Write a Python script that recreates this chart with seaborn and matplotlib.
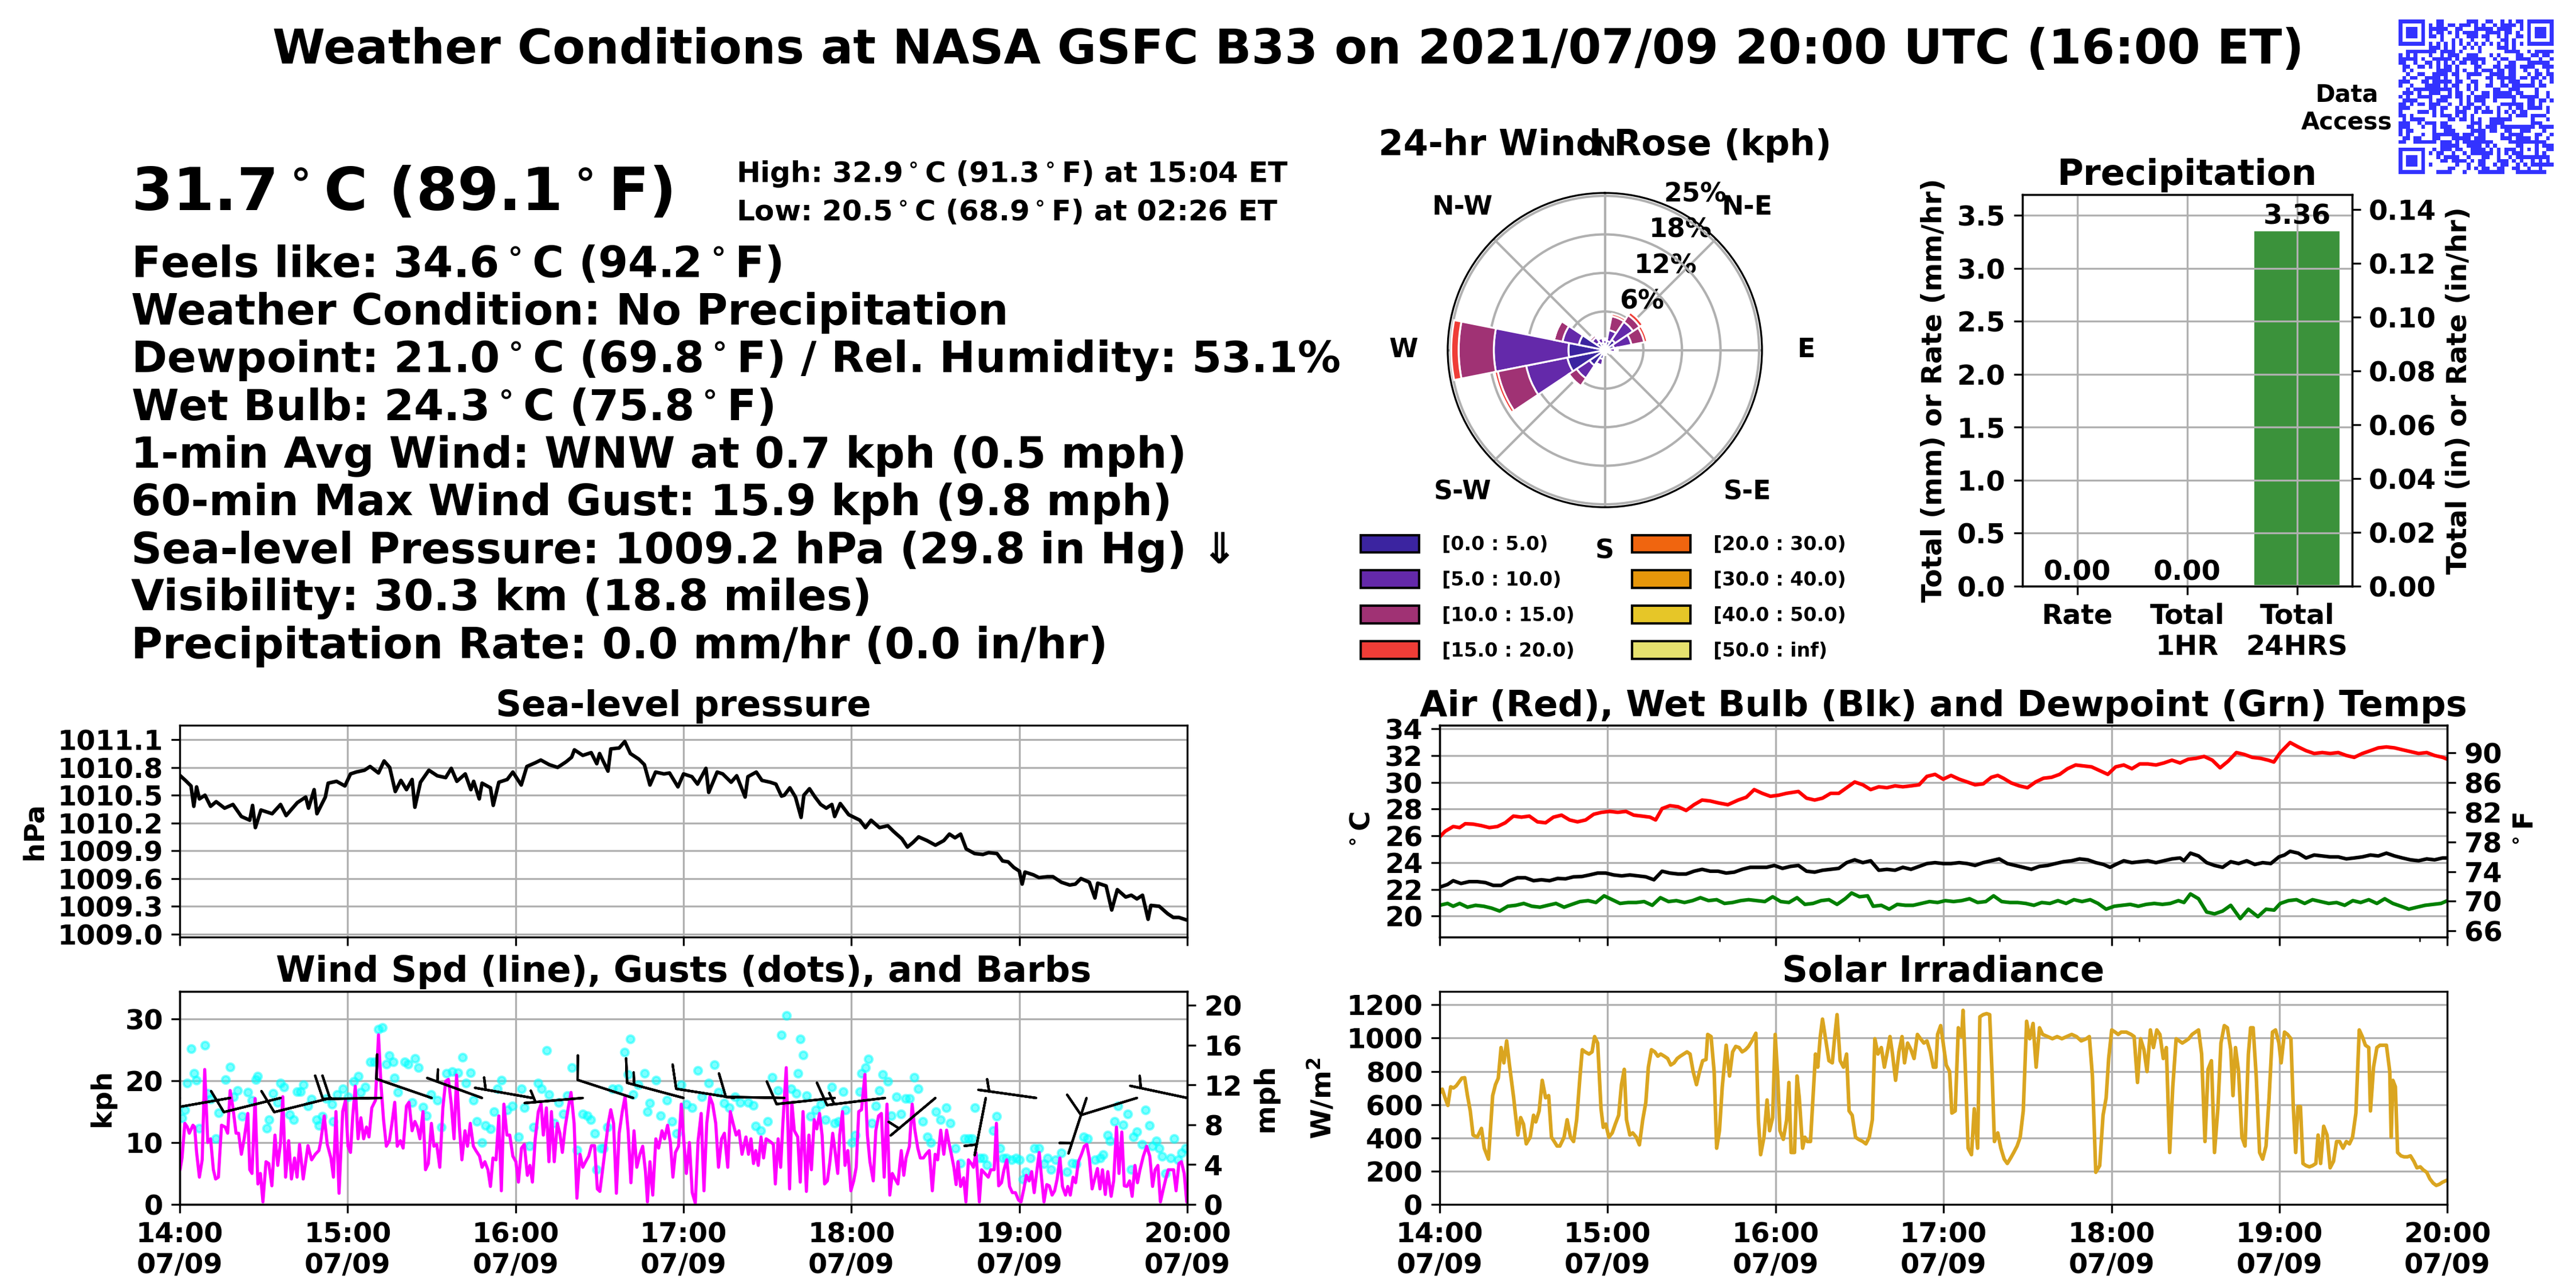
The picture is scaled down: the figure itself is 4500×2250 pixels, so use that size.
import hashlib

import numpy as np
import pandas as pd
import seaborn as sns
import matplotlib
matplotlib.use("Agg")
import matplotlib.pyplot as plt
import matplotlib.dates as mdates
import matplotlib.patches as mpatches
from matplotlib.colors import ListedColormap
from matplotlib.ticker import FormatStrFormatter

# ---------------- data ----------------
T0 = pd.Timestamp("2021-07-09 14:00")

TITLE = "Weather Conditions at NASA GSFC B33 on 2021/07/09 20:00 UTC (16:00 ET)"
BIG_TEMP = "31.7$^\\circ$C (89.1$^\\circ$F)"
HIGH_LOW = ["High: 32.9$^\\circ$C (91.3$^\\circ$F) at 15:04 ET",
            "Low: 20.5$^\\circ$C (68.9$^\\circ$F) at 02:26 ET"]
CONDITIONS = [
    "Feels like: 34.6$^\\circ$C (94.2$^\\circ$F)",
    "Weather Condition: No Precipitation",
    "Dewpoint: 21.0$^\\circ$C (69.8$^\\circ$F) / Rel. Humidity: 53.1%",
    "Wet Bulb: 24.3$^\\circ$C (75.8$^\\circ$F)",
    "1-min Avg Wind: WNW at 0.7 kph (0.5 mph)",
    "60-min Max Wind Gust: 15.9 kph (9.8 mph)",
    "Sea-level Pressure: 1009.2 hPa (29.8 in Hg) \u21d3",
    "Visibility: 30.3 km (18.8 miles)",
    "Precipitation Rate: 0.0 mm/hr (0.0 in/hr)",
]

# (minutes after 14:00 UTC, value)
PRESSURE = [
    (0, 1010.715), (2, 1010.66), (4, 1010.60), (5, 1010.38), (6, 1010.59), (7, 1010.46), (9, 1010.50),
    (11, 1010.38), (13, 1010.43), (16, 1010.36), (19, 1010.40), (22, 1010.27), (25, 1010.23), (26, 1010.39),
    (27, 1010.15), (29, 1010.34), (33, 1010.30), (36, 1010.40), (38, 1010.28), (42, 1010.42), (45, 1010.48),
    (46, 1010.36), (48, 1010.56), (49, 1010.30), (52, 1010.48), (53, 1010.63), (56, 1010.65), (59, 1010.60),
    (61, 1010.73), (63, 1010.75), (66, 1010.77), (68, 1010.81), (71, 1010.74), (73, 1010.87), (75, 1010.80),
    (77, 1010.54), (79, 1010.66), (81, 1010.56), (83, 1010.67), (84, 1010.37), (86, 1010.64), (89, 1010.77),
    (92, 1010.71), (95, 1010.69), (97, 1010.79), (99, 1010.65), (102, 1010.73), (104, 1010.56), (105, 1010.65),
    (107, 1010.46), (108, 1010.63), (111, 1010.58), (112, 1010.39), (114, 1010.64), (117, 1010.67),
    (119, 1010.75), (122, 1010.61), (124, 1010.81), (127, 1010.85), (129, 1010.88), (132, 1010.83),
    (135, 1010.80), (138, 1010.86), (140, 1010.91), (141, 1010.99), (144, 1010.93), (147, 1010.96),
    (149, 1010.84), (150, 1010.95), (153, 1010.76), (154, 1011.00), (157, 1011.01), (159, 1011.08),
    (161, 1010.95), (164, 1010.89), (166, 1010.83), (168, 1010.61), (170, 1010.75), (173, 1010.73),
    (175, 1010.74), (178, 1010.59), (180, 1010.73), (183, 1010.70), (185, 1010.62), (188, 1010.79),
    (189, 1010.53), (192, 1010.75), (194, 1010.73), (197, 1010.64), (199, 1010.71), (202, 1010.48),
    (203, 1010.70), (206, 1010.75), (208, 1010.66), (211, 1010.64), (213, 1010.62), (215, 1010.49),
    (216, 1010.50), (218, 1010.58), (220, 1010.48), (222, 1010.26), (223, 1010.50), (225, 1010.57),
    (227, 1010.48), (229, 1010.40), (231, 1010.36), (233, 1010.40), (234, 1010.27), (236, 1010.41),
    (239, 1010.29), (241, 1010.26), (243, 1010.23), (245, 1010.15), (247, 1010.23), (250, 1010.15),
    (253, 1010.17), (255, 1010.11), (258, 1010.03), (260, 1009.94), (262, 1009.99), (264, 1010.05),
    (267, 1010.01), (270, 1009.96), (273, 1010.01), (275, 1010.08), (277, 1010.04), (279, 1010.08),
    (281, 1009.92), (284, 1009.87), (287, 1009.86), (289, 1009.88), (292, 1009.87), (294, 1009.79),
    (296, 1009.78), (298, 1009.72), (300, 1009.68), (301, 1009.54), (302, 1009.67), (305, 1009.64),
    (307, 1009.61), (310, 1009.62), (312, 1009.62), (315, 1009.56), (318, 1009.53), (320, 1009.54),
    (322, 1009.60), (325, 1009.56), (327, 1009.39), (328, 1009.55), (331, 1009.52), (333, 1009.26),
    (335, 1009.48), (338, 1009.40), (340, 1009.42), (342, 1009.38), (344, 1009.42), (346, 1009.16),
    (347, 1009.31), (350, 1009.30), (353, 1009.22), (355, 1009.18), (357, 1009.18), (360, 1009.15),
]
PRESSURE_TICKS = [1009.0, 1009.3, 1009.6, 1009.9, 1010.2, 1010.5, 1010.8, 1011.1]

WIND_SPEED = [
    (0.1, 5.6), (0.8, 7.5), (1.8, 13.1), (2.7, 12.5), (3.4, 11.5), (4.7, 12.8), (5.3, 12.5), (6.0, 8.4),
    (7.0, 4.4), (8.0, 7.2), (8.9, 21.8), (10.0, 10.0), (11.0, 10.6), (12.0, 5.6), (12.8, 4.1), (13.8, 4.4),
    (14.9, 12.8), (16.2, 12.5), (17.1, 11.5), (18.0, 18.4), (19.0, 15.6), (20.1, 11.5), (21.0, 11.5),
    (22.0, 8.1), (23.0, 10.6), (24.3, 14.7), (25.0, 5.6), (25.8, 5.0), (26.9, 17.1), (27.9, 3.3), (28.8, 5.0),
    (29.7, 0.4), (30.8, 6.9), (31.8, 6.6), (32.9, 3.0), (34.0, 11.2), (35.0, 6.3), (36.0, 10.0), (36.8, 17.4),
    (37.8, 4.4), (38.9, 10.3), (39.9, 4.1), (41.0, 7.5), (41.9, 4.4), (42.8, 9.7), (44.1, 4.1), (45.8, 9.5),
    (47.1, 7.2), (48.4, 8.1), (49.7, 8.7), (50.3, 10.0), (51.6, 14.3), (52.7, 9.7), (54.0, 7.5), (54.9, 4.4),
    (55.8, 15.0), (56.9, 1.8), (58.2, 15.0), (59.2, 16.8), (60.1, 9.4), (61.0, 8.4), (61.8, 14.3),
    (62.7, 19.1), (63.7, 10.6), (64.7, 14.0), (65.7, 10.6), (66.7, 12.5), (67.6, 10.9), (68.6, 15.6),
    (69.9, 16.8), (71.0, 27.4), (71.9, 19.3), (72.8, 13.7), (73.8, 9.4), (74.9, 10.3), (75.8, 13.1),
    (76.8, 16.5), (77.7, 9.4), (78.8, 10.3), (79.8, 9.1), (81.0, 15.9), (81.9, 16.5), (83.0, 11.9),
    (84.0, 13.4), (84.9, 12.5), (85.8, 10.6), (86.9, 15.0), (87.8, 5.6), (88.8, 6.6), (89.9, 13.1),
    (90.8, 9.4), (91.8, 9.7), (92.9, 6.0), (94.0, 15.6), (95.0, 19.9), (96.0, 20.2), (97.0, 16.2),
    (98.0, 10.6), (98.9, 20.9), (99.9, 12.5), (100.8, 7.2), (101.9, 11.9), (102.8, 9.4), (103.8, 13.1),
    (104.9, 9.4), (105.8, 8.7), (107.1, 7.8), (108.0, 6.0), (109.0, 6.9), (110.1, 5.6), (111.0, 2.9),
    (111.9, 7.5), (113.0, 7.2), (114.0, 14.3), (114.9, 2.2), (115.8, 16.2), (116.9, 11.2), (117.9, 11.2),
    (119.0, 7.8), (120.1, 6.9), (121.0, 3.6), (122.1, 9.1), (123.1, 9.7), (124.2, 4.7), (125.1, 6.3),
    (126.0, 3.6), (127.0, 10.6), (128.1, 15.0), (129.1, 16.2), (129.9, 11.2), (131.0, 15.6), (131.9, 6.9),
    (132.8, 15.0), (133.8, 6.9), (134.9, 13.1), (135.8, 11.5), (136.7, 8.4), (137.7, 12.5), (138.8, 15.6),
    (139.8, 18.1), (140.9, 13.1), (141.9, 1.0), (143.0, 8.1), (144.0, 6.0), (145.0, 6.9), (146.1, 7.8),
    (147.1, 9.5), (148.2, 9.5), (149.2, 2.5), (150.1, 2.1), (151.0, 5.3), (152.1, 9.4), (153.1, 13.1),
    (154.0, 15.3), (155.0, 13.1), (156.0, 1.8), (157.0, 11.5), (158.1, 15.0), (159.1, 17.4), (160.2, 11.9),
    (161.2, 3.5), (162.3, 11.9), (163.3, 6.0), (164.4, 8.1), (165.4, 9.4), (166.4, 5.3), (167.1, 0.4),
    (168.0, 6.9), (169.0, 1.5), (170.1, 10.6), (171.1, 9.1), (172.3, 11.9), (173.2, 10.6), (174.3, 12.8),
    (175.3, 10.0), (176.2, 4.4), (177.1, 8.4), (178.2, 9.4), (179.2, 16.2), (180.1, 10.3), (181.0, 5.0),
    (182.1, 10.0), (183.1, 1.9), (184.2, 0.2), (185.2, 10.3), (186.3, 14.7), (187.3, 2.2), (188.3, 13.1),
    (189.4, 17.4), (190.4, 16.2), (191.5, 13.1), (192.5, 6.0), (193.6, 10.6), (194.6, 11.5), (195.8, 6.0),
    (196.7, 15.0), (197.7, 13.1), (198.8, 11.2), (199.8, 11.9), (200.9, 8.1), (202.3, 10.9), (203.2, 8.1),
    (204.1, 10.6), (205.0, 6.6), (205.8, 8.7), (206.7, 6.3), (207.7, 10.9), (208.6, 7.5), (209.5, 10.6),
    (210.5, 10.3), (211.4, 10.0), (212.1, 9.7), (212.8, 3.3), (213.8, 10.6), (214.7, 6.0), (215.5, 13.1),
    (216.7, 22.1), (217.9, 2.5), (218.7, 16.5), (219.6, 11.9), (220.8, 10.9), (221.7, 3.6), (222.7, 15.0),
    (223.9, 2.1), (224.8, 11.2), (225.7, 5.6), (226.7, 13.7), (227.6, 12.2), (228.6, 14.7), (229.5, 11.2),
    (230.4, 3.3), (231.4, 3.8), (232.3, 6.9), (233.3, 11.5), (234.2, 8.4), (235.1, 5.0), (235.8, 11.2),
    (236.8, 15.0), (237.7, 6.3), (238.7, 8.7), (239.8, 2.2), (240.8, 3.8), (241.7, 6.0), (242.6, 15.0),
    (243.6, 15.3), (244.8, 21.0), (245.7, 11.2), (246.6, 6.9), (247.8, 3.8), (248.7, 11.9), (249.7, 14.3),
    (250.7, 14.7), (251.7, 4.4), (252.7, 16.2), (253.7, 1.5), (254.6, 5.0), (255.6, 4.1), (256.6, 3.3),
    (257.8, 8.7), (258.7, 4.7), (259.5, 7.5), (260.7, 9.4), (261.7, 16.2), (262.6, 12.2), (263.7, 9.1),
    (264.6, 7.5), (265.7, 7.5), (266.6, 8.1), (267.8, 8.7), (268.9, 2.2), (269.9, 8.1), (270.8, 7.2),
    (271.9, 12.0), (273.0, 8.1), (274.0, 12.0), (274.8, 10.0), (275.7, 8.1), (276.6, 6.0), (277.4, 3.2),
    (278.1, 6.9), (279.0, 2.9), (280.1, 4.3), (280.9, 0.4), (281.8, 7.2), (282.8, 6.6), (283.6, 6.0),
    (284.5, 8.4), (285.7, 0.4), (286.5, 5.6), (287.7, 5.0), (288.9, 4.4), (289.8, 5.6), (291.0, 5.6),
    (291.8, 13.1), (292.6, 3.0), (293.6, 3.5), (294.5, 5.6), (295.5, 7.2), (296.5, 2.9), (297.5, 1.9),
    (298.6, 1.9), (299.7, 0.7), (300.6, 0.4), (301.6, 2.5), (302.5, 4.7), (303.5, 3.8), (304.4, 5.3),
    (305.3, 1.9), (306.3, 5.6), (307.1, 8.4), (307.9, 4.4), (308.8, 0.4), (309.8, 3.2), (310.7, 3.0),
    (311.7, 1.5), (312.6, 2.2), (313.5, 4.1), (314.5, 7.5), (315.4, 2.9), (316.5, 1.5), (317.3, 2.9),
    (318.2, 1.5), (319.2, 4.4), (320.1, 3.5), (321.1, 6.9), (322.2, 8.1), (323.2, 9.4), (324.1, 9.7),
    (325.0, 7.5), (326.0, 2.5), (326.9, 4.1), (327.9, 5.8), (328.8, 2.5), (329.7, 5.6), (330.7, 1.6),
    (331.6, 5.3), (332.8, 1.3), (333.7, 3.8), (334.7, 12.5), (335.6, 5.0), (336.6, 11.7), (337.5, 3.0),
    (338.4, 2.9), (339.4, 3.8), (340.3, 1.3), (341.3, 6.3), (342.2, 3.5), (343.1, 5.6), (344.3, 7.8),
    (345.5, 9.4), (346.6, 7.8), (347.6, 2.9), (348.5, 5.6), (349.5, 6.3), (350.4, 0.4), (351.3, 2.2),
    (352.3, 4.1), (353.2, 5.6), (354.2, 5.6), (355.1, 5.6), (356.0, 2.2), (357.0, 6.6), (357.9, 6.9),
    (358.9, 5.0), (359.8, 0.4),
]

WIND_GUST = [
    (0.8, 14.0), (1.8, 15.3), (2.7, 19.6), (4.0, 25.2), (5.0, 21.2), (6.0, 20.1), (7.0, 12.3), (9.0, 25.7),
    (10.0, 17.9), (11.0, 17.0), (12.8, 10.6), (13.8, 14.8), (16.4, 20.2), (18.0, 22.2), (19.3, 17.4),
    (20.6, 18.4), (22.3, 14.2), (24.3, 18.1), (25.8, 16.8), (27.1, 20.2), (27.9, 20.7), (31.0, 12.3),
    (31.8, 13.7), (33.4, 17.9), (35.0, 16.5), (36.0, 19.6), (37.3, 19.0), (39.3, 14.5), (40.6, 13.7),
    (41.9, 18.2), (43.2, 18.2), (44.1, 19.3), (45.8, 15.9), (47.1, 17.0), (48.8, 13.7), (49.7, 12.8),
    (51.0, 14.2), (52.3, 17.1), (54.3, 16.2), (54.9, 13.4), (56.2, 17.8), (58.2, 18.7), (60.1, 17.4),
    (62.1, 19.9), (63.7, 20.7), (64.7, 18.1), (66.3, 19.0), (68.0, 23.0), (69.6, 23.0), (71.0, 28.3),
    (72.3, 28.6), (73.8, 22.7), (74.9, 24.0), (76.2, 23.0), (76.7, 20.4), (78.0, 18.1), (80.3, 23.0),
    (81.6, 22.7), (83.0, 16.5), (84.0, 23.6), (85.3, 22.1), (86.9, 15.7), (88.2, 14.3), (89.7, 17.8),
    (92.1, 16.8), (93.4, 12.5), (95.3, 21.2), (97.3, 21.5), (99.3, 21.3), (101.0, 23.8), (102.3, 19.6),
    (103.8, 21.3), (104.9, 16.8), (106.2, 13.4), (108.0, 10.0), (109.3, 12.8), (111.0, 12.2), (112.3, 15.0),
    (113.6, 18.7), (114.9, 20.1), (116.9, 15.3), (118.8, 15.9), (121.0, 10.9), (122.1, 18.7), (123.1, 15.6),
    (125.0, 9.4), (126.4, 12.5), (128.0, 19.6), (129.3, 18.7), (131.0, 24.9), (131.9, 17.8), (133.8, 13.1),
    (135.4, 16.5), (137.1, 14.6), (138.4, 17.6), (140.1, 22.1), (141.9, 8.8), (144.0, 14.6), (145.6, 14.3),
    (146.9, 13.7), (148.2, 11.5), (148.8, 5.6), (150.5, 9.1), (151.4, 9.1), (152.7, 12.5), (154.7, 18.7),
    (156.6, 18.7), (158.9, 24.6), (160.2, 21.0), (161.0, 26.7), (161.9, 17.8), (163.8, 19.3), (166.0, 21.2),
    (167.1, 15.0), (168.0, 16.4), (170.1, 20.1), (171.9, 14.3), (174.0, 16.8), (175.8, 13.4), (177.5, 11.5),
    (179.2, 19.3), (181.0, 16.2), (183.1, 15.6), (185.0, 21.6), (186.6, 17.4), (188.9, 19.6), (191.0, 22.6),
    (192.5, 18.1), (194.5, 16.4), (196.4, 15.6), (198.4, 17.4), (200.3, 16.5), (203.2, 16.5), (205.0, 16.0),
    (205.8, 12.7), (207.7, 11.9), (210.0, 13.4), (211.7, 20.5), (213.8, 18.4), (214.9, 27.4), (216.9, 30.5),
    (218.5, 18.7), (220.2, 17.9), (220.8, 21.2), (221.7, 26.7), (222.8, 24.1), (224.0, 17.6), (225.3, 14.2),
    (227.3, 15.3), (229.0, 16.2), (230.8, 13.7), (232.9, 19.0), (234.0, 13.1), (235.5, 13.4), (237.0, 18.2),
    (237.8, 15.3), (240.2, 10.0), (241.4, 11.2), (242.9, 18.2), (243.7, 21.2), (245.0, 22.1), (246.0, 23.5),
    (247.3, 13.1), (248.7, 15.9), (249.9, 18.4), (251.1, 21.0), (253.0, 19.9), (254.3, 14.3), (256.0, 17.4),
    (257.8, 14.6), (259.3, 17.1), (260.7, 17.1), (262.5, 20.5), (263.9, 18.7), (265.4, 13.4), (267.2, 10.9),
    (268.3, 10.0), (270.1, 15.0), (271.9, 13.7), (273.9, 15.6), (275.4, 13.1), (277.2, 9.1), (278.9, 6.7),
    (280.4, 10.6), (281.9, 10.6), (283.0, 10.6), (284.2, 15.6), (285.9, 7.5), (287.1, 7.5), (288.3, 6.4),
    (290.7, 11.9), (291.8, 14.2), (293.0, 9.1), (294.2, 7.5), (295.3, 7.5), (297.1, 7.2), (298.9, 7.5),
    (300.0, 7.2), (301.2, 4.1), (302.4, 5.3), (303.9, 7.5), (305.3, 9.1), (307.1, 9.1), (308.9, 6.6),
    (310.0, 7.5), (311.4, 5.6), (313.0, 7.2), (315.0, 8.3), (317.1, 5.3), (318.8, 6.7), (320.4, 6.6),
    (322.9, 10.9), (324.3, 10.6), (327.0, 7.2), (329.0, 7.5), (330.0, 8.0), (331.5, 11.2), (332.3, 10.3),
    (334.1, 13.4), (335.3, 15.9), (337.0, 12.9), (338.8, 14.6), (340.0, 5.6), (340.8, 10.9), (342.0, 11.7),
    (343.8, 9.7), (345.0, 15.3), (346.4, 12.8), (347.6, 9.4), (349.0, 10.3), (350.0, 9.1), (350.9, 7.8),
    (352.3, 5.0), (354.0, 7.5), (355.2, 10.6), (356.7, 7.2), (357.9, 8.3), (359.3, 9.1),
]

# wind barbs every 18 min: time, direction the wind blows from (deg), speed (kph)
BARB_MIN = [0, 18, 36, 54, 72, 90, 108, 126, 144, 162, 180, 198, 216, 234, 252, 270, 288, 306, 324, 342, 360]
BARB_DIR = [260, 260, 256, 256, 269, 289, 290, 280, 265, 288, 285, 279, 271, 264, 263, 230, 191, 278, 198, 253, 282]
BARB_KPH = [10, 10, 10, 10, 20, 10, 5, 5, 5, 10, 15, 10, 10, 10, 15, 5, 5, 5, 5, 10, 5]
BARB_LEVEL = 17.2

AIR_TEMP = [
    (0, 25.91), (2, 26.34), (4.9, 26.70), (7.2, 26.62), (9.2, 26.91), (12, 26.88), (14.9, 26.77), (17.8, 26.62),
    (20.7, 26.70), (23.5, 26.98), (26.4, 27.48), (29.3, 27.40), (32.1, 27.48), (35, 27.05), (37.9, 26.98),
    (40.7, 27.40), (43.6, 27.55), (46.5, 27.19), (49.3, 27.05), (52.2, 27.19), (55.1, 27.62), (57.9, 27.76),
    (60.8, 27.83), (63.7, 27.76), (66.6, 27.83), (69.4, 27.55), (72.3, 27.48), (75.2, 27.40), (77.2, 27.19),
    (79.5, 28.04), (82.3, 28.26), (85.2, 28.18), (88.1, 27.90), (90.9, 28.33), (93.8, 28.68), (96.7, 28.61),
    (99.5, 28.47), (103, 28.33), (106.7, 28.68), (109.6, 28.89), (112.4, 29.46), (115.3, 29.18),
    (118.2, 28.96), (121.1, 29.04), (123.9, 29.18), (128.2, 29.32), (131.1, 28.82), (134, 28.68),
    (136.8, 28.82), (139.7, 29.18), (142.6, 29.18), (145.4, 29.60), (148.3, 30.03), (151.2, 29.82),
    (154, 29.46), (156.9, 29.67), (159.8, 29.60), (162.7, 29.74), (165.5, 29.67), (168.4, 29.74),
    (171.3, 29.82), (174.1, 30.45), (177, 30.60), (179.9, 30.24), (182.7, 30.52), (185.6, 30.24),
    (188.5, 30.03), (191.3, 29.82), (194.2, 29.89), (197.1, 30.38), (199.4, 30.52), (201.4, 30.31),
    (204.2, 29.96), (207.1, 29.74), (210, 29.60), (212.9, 30.03), (215.7, 30.31), (218.6, 30.38),
    (221.5, 30.60), (224.3, 31.02), (227.2, 31.30), (230.1, 31.23), (232.9, 31.16), (235.8, 30.88),
    (238.7, 30.60), (241.5, 31.16), (244.4, 31.30), (247.3, 31.02), (250.1, 31.38), (253, 31.38),
    (255.9, 31.30), (258.7, 31.45), (261.6, 31.66), (264.5, 31.45), (267.4, 31.73), (270.2, 31.80),
    (273.1, 31.94), (276, 31.66), (278.8, 31.09), (281.7, 31.59), (284.6, 32.23), (287.4, 32.09),
    (290.3, 31.87), (293.2, 31.80), (296, 31.66), (298, 31.52), (300.3, 32.23), (303.8, 32.98),
    (306.7, 32.65), (309.5, 32.37), (312.4, 32.16), (315.3, 32.23), (318.1, 32.16), (321, 32.23),
    (323.9, 32.01), (326.7, 31.87), (329.6, 32.16), (332.5, 32.37), (335.3, 32.58), (338.2, 32.65),
    (341.1, 32.58), (343.9, 32.44), (346.8, 32.30), (349.7, 32.16), (352.6, 32.23), (355.4, 32.01),
    (358.3, 31.87), (360, 31.73),
]

WET_BULB = [
    (0, 22.16), (2.9, 22.37), (4.9, 22.65), (7.7, 22.44), (10.6, 22.58), (13.5, 22.58), (16.4, 22.51),
    (19.2, 22.30), (22.1, 22.30), (25, 22.65), (27.8, 22.87), (30.7, 22.87), (33.6, 22.65), (36.4, 22.72),
    (39.3, 22.65), (42.2, 22.82), (45, 22.79), (47.9, 22.94), (50.8, 22.96), (53.6, 23.08), (56.5, 23.22),
    (59.4, 23.22), (62.2, 23.08), (65.1, 23.01), (68, 23.08), (70.9, 23.01), (73.7, 22.94), (76.6, 22.72),
    (79.5, 23.36), (82.3, 23.22), (85.2, 23.15), (88.1, 23.15), (90.9, 23.36), (93.8, 23.50), (96.7, 23.36),
    (99.5, 23.36), (102.4, 23.22), (105.3, 23.29), (108.1, 23.50), (111, 23.65), (113.9, 23.65),
    (116.8, 23.65), (119.6, 23.79), (122.5, 23.57), (125.4, 23.72), (128.2, 23.79), (131.1, 23.36),
    (134, 23.29), (136.8, 23.43), (139.7, 23.50), (142.6, 23.57), (145.4, 24.00), (148.3, 24.21),
    (151.2, 24.00), (154, 24.14), (156.9, 23.43), (159.8, 23.50), (162.7, 23.43), (165.5, 23.65),
    (168.4, 23.50), (171.3, 23.72), (174.1, 23.93), (177, 24.00), (179.9, 23.93), (182.7, 23.93),
    (185.6, 24.00), (188.5, 23.93), (191.3, 23.79), (194.2, 24.00), (197.1, 24.14), (199.9, 24.28),
    (202.8, 23.93), (205.7, 23.79), (208.5, 23.65), (211.4, 23.50), (214.3, 23.72), (217.2, 23.79),
    (220, 23.93), (222.9, 24.07), (225.8, 24.14), (228.6, 24.28), (231.5, 24.21), (234.4, 24.00),
    (237.2, 23.86), (239.5, 23.65), (241.5, 23.86), (244.4, 24.14), (247.3, 24.00), (250.1, 24.07),
    (253, 24.14), (255.9, 24.00), (258.7, 24.14), (261.6, 24.28), (264.5, 24.35), (265.9, 24.14),
    (268.2, 24.71), (271.1, 24.50), (274, 24.00), (276.8, 23.79), (279.7, 23.65), (282.6, 24.07),
    (285.4, 23.93), (288.3, 24.14), (291.2, 23.86), (294, 24.00), (296.9, 23.93), (299.8, 24.43),
    (301.8, 24.57), (303.8, 24.85), (306.7, 24.71), (309.5, 24.35), (312.4, 24.57), (315.3, 24.50),
    (318.1, 24.43), (321, 24.43), (323.9, 24.28), (326.7, 24.35), (329.6, 24.43), (332.5, 24.57),
    (335.3, 24.50), (338.2, 24.71), (341.1, 24.50), (343.9, 24.35), (346.8, 24.21), (349.7, 24.14),
    (352.6, 24.28), (355.4, 24.21), (358.3, 24.35), (360, 24.35),
]

DEWPOINT = [
    (0, 20.81), (2.9, 20.95), (4.9, 20.74), (7.2, 20.95), (10, 20.67), (12.9, 20.81), (15.8, 20.74),
    (18.6, 20.60), (21.5, 20.38), (24.4, 20.74), (27.3, 20.81), (30.1, 20.95), (33, 20.74), (35.9, 20.67),
    (38.7, 20.81), (41.6, 20.95), (44.5, 20.67), (47.3, 20.88), (50.2, 21.09), (53.1, 21.16), (55.9, 21.02),
    (58.8, 21.52), (61.7, 21.23), (64.5, 20.95), (67.4, 21.02), (70.3, 21.02), (73.1, 21.09), (76, 20.81),
    (78.9, 21.38), (81.8, 21.09), (84.6, 21.16), (87.5, 21.02), (90.4, 21.16), (93.2, 21.38), (96.1, 21.16),
    (99, 21.23), (101.8, 20.95), (104.7, 21.02), (107.6, 21.16), (110.4, 21.23), (113.3, 21.16),
    (116.2, 21.09), (119, 21.45), (121.9, 21.09), (124.8, 21.02), (127.7, 21.38), (130.5, 20.88),
    (133.4, 20.95), (136.3, 21.16), (139.1, 21.23), (142, 20.88), (144.9, 21.30), (147.2, 21.73),
    (150, 21.45), (152.9, 21.52), (154.9, 20.74), (157.8, 20.81), (160.6, 20.52), (163.5, 20.88),
    (166.4, 20.81), (169.2, 20.81), (172.1, 20.95), (175, 21.09), (177.9, 21.02), (180.7, 21.16),
    (183.6, 21.09), (186.5, 21.16), (189.3, 21.30), (192.2, 21.02), (195.1, 21.09), (197.9, 21.52),
    (200.8, 21.09), (203.7, 21.02), (206.5, 21.02), (209.4, 20.95), (212.3, 20.81), (215.1, 21.02),
    (218, 20.95), (220.9, 21.16), (223.8, 20.95), (226.6, 21.23), (229.5, 21.09), (232.4, 21.23),
    (235.2, 20.95), (238.1, 20.52), (241, 20.74), (243.8, 20.81), (246.7, 20.88), (249.6, 20.74),
    (252.4, 20.88), (255.3, 20.95), (258.2, 20.88), (261, 20.95), (263.9, 21.16), (265.9, 21.02),
    (268.2, 21.66), (271.1, 21.30), (274, 20.31), (276.8, 20.17), (279.7, 20.38), (282.6, 20.81),
    (286, 19.82), (288.9, 20.52), (292.3, 19.96), (295.2, 20.52), (298.1, 20.45), (300.3, 20.95),
    (303.2, 21.16), (306.1, 21.23), (309, 20.95), (311.8, 21.23), (314.7, 21.09), (317.6, 20.95),
    (320.4, 21.02), (323.3, 20.81), (326.2, 21.16), (329, 21.02), (331.9, 21.23), (334.8, 20.95),
    (337.6, 21.30), (340.5, 20.95), (343.4, 20.74), (346.2, 20.52), (349.1, 20.67), (352, 20.81),
    (354.8, 20.88), (357.7, 20.95), (360, 21.16),
]

SOLAR = [
    (0, 667), (1, 693), (2, 641), (3, 595), (4, 707), (5, 700), (6, 713), (8, 759), (9, 762), (10, 654),
    (11, 562), (12, 417), (13.5, 404), (15, 457), (16, 338), (17.5, 272), (19, 654), (20, 720), (21, 759),
    (22, 943), (23, 851), (24, 983), (25, 838), (26.5, 641), (27, 562), (28, 417), (29, 522), (30, 483),
    (31, 364), (32.4, 404), (33.6, 536), (34.4, 496), (35.6, 562), (36.7, 746), (37.9, 641), (39, 654),
    (40, 404), (41, 378), (42, 351), (43, 351), (44.5, 404), (45.6, 509), (46.8, 404), (47.9, 378),
    (49, 509), (50.2, 772), (51, 930), (52, 917), (53.4, 904), (54.5, 917), (55.4, 1009), (56.5, 970),
    (57.7, 575), (58.5, 463), (59.4, 483), (60.5, 404), (61.7, 430), (62.8, 483), (64, 536), (65, 720),
    (66, 812), (66.8, 509), (68, 417), (69, 430), (70.3, 404), (71.4, 358), (72.6, 509), (73.7, 614),
    (74.6, 825), (75.7, 930), (76.9, 917), (78, 891), (79, 904), (80.3, 891), (81.5, 877), (82.6, 838),
    (83.8, 851), (84.9, 877), (86, 891), (87.2, 904), (88.4, 917), (89.5, 904), (90.6, 799), (91.8, 720),
    (92.9, 799), (94, 864), (95.2, 871), (95.8, 1022), (97, 1009), (98.1, 799), (99, 338), (100, 443),
    (101, 707), (102.4, 957), (103.6, 772), (104.7, 917), (105.8, 950), (107, 943), (108.1, 917),
    (109.3, 930), (110.4, 950), (111.6, 983), (113, 1029), (113.9, 509), (114.7, 299), (115.9, 404),
    (117, 628), (117.9, 443), (119, 522), (119.9, 1022), (120.8, 772), (121.6, 443), (122.8, 391),
    (124, 509), (124.8, 733), (125.6, 312), (126.8, 312), (127.7, 772), (128.5, 641), (129.7, 338),
    (130.5, 404), (131.4, 378), (132.5, 378), (133.4, 641), (134.3, 904), (135.1, 825), (136, 1009),
    (136.8, 1114), (138, 983), (139.1, 864), (140.3, 851), (141.1, 996), (142, 1141), (143.1, 864),
    (144.3, 825), (145.4, 904), (146.3, 562), (147.4, 536), (148.6, 404), (149.7, 391), (151.2, 378),
    (152.3, 364), (153.5, 404), (154.6, 509), (155.5, 996), (156.6, 904), (157.8, 943), (158.9, 825),
    (160.1, 930), (160.9, 1009), (161.8, 904), (162.9, 746), (164.1, 917), (165.2, 1009), (166.1, 851),
    (167.2, 970), (168.4, 930), (169.5, 877), (170.7, 1022), (171.8, 996), (173, 970), (174.1, 983),
    (175.3, 917), (176.4, 825), (177.3, 825), (177.9, 1022), (179, 1075), (179.9, 970), (181, 838),
    (182.2, 799), (183, 549), (184.2, 562), (185.3, 1062), (186.5, 1009), (187, 1167), (187.9, 772),
    (188.8, 338), (190, 299), (191, 575), (192.2, 338), (193, 1128), (194.2, 1141), (195.4, 1147),
    (196.5, 1141), (197.4, 772), (198.2, 378), (199.4, 430), (200.5, 338), (201.7, 272), (202.8, 246),
    (204, 279), (205.1, 312), (206.3, 351), (207.4, 404), (208.5, 562), (209.7, 1101), (210.8, 996),
    (212, 1088), (213.1, 825), (214.3, 1062), (215.4, 1022), (217.2, 1009), (218.9, 996), (220.6, 1009),
    (222.3, 996), (224, 1009), (225.8, 1022), (227.5, 1009), (229.2, 983), (231, 996), (232.1, 1009),
    (233.2, 772), (234.4, 193), (235.8, 233), (237, 536), (238.1, 641), (239, 877), (240.1, 1049),
    (241.3, 1036), (242.4, 1022), (243.5, 1036), (245.3, 1036), (247, 1022), (248.1, 1009), (249.3, 733),
    (250.4, 996), (251.6, 930), (252.7, 799), (253.9, 1049), (255, 943), (256.2, 1049), (257.3, 1022),
    (258.5, 877), (259.6, 943), (260.8, 312), (261.9, 707), (263.1, 996), (264.2, 983), (265.3, 970),
    (266.5, 983), (267.6, 996), (268.8, 1022), (270, 1036), (271.1, 1049), (272.2, 904), (273.4, 378),
    (274.5, 812), (275.7, 864), (276.8, 312), (278, 575), (279.1, 970), (280.3, 1075), (281.4, 1062),
    (282.6, 930), (283.4, 654), (284.3, 943), (285.4, 799), (286.6, 404), (287.7, 351), (288.9, 904),
    (289.7, 1062), (290.6, 1062), (291.7, 772), (292.9, 312), (294, 272), (295.2, 351), (296.3, 641),
    (297.5, 1036), (298.6, 1049), (299.8, 970), (300.6, 851), (301.8, 1036), (302.9, 1022), (304.1, 996),
    (304.9, 601), (305.8, 312), (306.6, 588), (307.5, 588), (308.4, 246), (309.5, 233), (310.7, 226),
    (311.8, 233), (313, 246), (313.8, 417), (314.7, 246), (315.8, 470), (317, 417), (318.1, 220),
    (319.3, 259), (320.4, 378), (321.5, 378), (322.7, 338), (323.9, 378), (325, 364), (326.1, 404),
    (327.3, 549), (328.5, 1049), (329.6, 1009), (330.7, 957), (331.9, 943), (332.5, 562), (333.6, 825),
    (334.8, 943), (335.9, 957), (337.1, 957), (338.2, 957), (339.4, 799), (339.9, 404), (340.5, 746),
    (341.4, 707), (342.2, 312), (343.4, 292), (344.5, 286), (345.7, 286), (346.8, 292), (348, 259),
    (349.1, 220), (350.3, 226), (351.4, 207), (352.6, 193), (353.7, 154), (354.9, 128), (356, 114),
    (357.1, 121), (358.3, 134), (360, 147),
]

# wind rose: 16 sectors, percent of 24-hr samples per speed bin
ROSE_DIRS = [0, 22.5, 45, 67.5, 90, 112.5, 135, 157.5, 180, 202.5, 225, 247.5, 270, 292.5, 315, 337.5]
FREQ_0_5 = [1.0, 1.5, 2.0, 1.5, 0.8, 0.5, 0.3, 0.3, 0.4, 1.5, 3.0, 6.2, 5.9, 4.3, 1.5, 1.2]
FREQ_5_10 = [0.6, 1.8, 3.5, 2.9, 0.8, 0.4, 0.2, 0.2, 0.3, 1.0, 2.5, 6.8, 12.1, 2.7, 1.0, 0.8]
FREQ_10_15 = [0.2, 2.3, 1.3, 2.1, 0.3, 0.1, 0.0, 0.0, 0.1, 0.2, 1.5, 4.7, 5.7, 1.4, 0.4, 0.3]
FREQ_15_20 = [0.1, 0.4, 0.6, 0.5, 0.2, 0.0, 0.0, 0.0, 0.0, 0.0, 0.2, 0.5, 1.2, 0.0, 0.2, 0.2]
BIN_LABELS = ["[0.0 : 5.0)", "[5.0 : 10.0)", "[10.0 : 15.0)", "[15.0 : 20.0)",
              "[20.0 : 30.0)", "[30.0 : 40.0)", "[40.0 : 50.0)", "[50.0 : inf)"]
BIN_COLORS = ["#3b24a0", "#6429aa", "#a03274", "#ef3d37",
              "#f0650f", "#e6960a", "#e6c628", "#e6e16e"]
RING_PCT = [6.25, 12.5, 18.75, 25.0]
RING_LABELS = ["6%", "12%", "18%", "25%"]
DIR_LABELS = ["N", "N-E", "E", "S-E", "S", "S-W", "W", "N-W"]

PRECIP_LABELS = ["Rate", "Total\n1HR", "Total\n24HRS"]
PRECIP_MM = [0.0, 0.0, 3.36]
PRECIP_MM_TICKS = [0.0, 0.5, 1.0, 1.5, 2.0, 2.5, 3.0, 3.5]
PRECIP_IN_TICKS = [0.0, 0.02, 0.04, 0.06, 0.08, 0.10, 0.12, 0.14]

QR_TEXT = "NASA GSFC B33 weather station data access"

# ---------------- style ----------------
sns.set_style("ticks")
plt.rcParams["font.family"] = ["DejaVu Sans"]
plt.rcParams.update({
    "font.weight": "bold", "axes.labelweight": "bold", "axes.titleweight": "bold",
    "axes.titlesize": 15, "axes.labelsize": 11.5,
    "xtick.labelsize": 11.5, "ytick.labelsize": 11.5,
    "text.color": "black", "axes.labelcolor": "black", "axes.edgecolor": "black",
    "xtick.color": "black", "ytick.color": "black",
    "grid.color": "#b0b0b0", "grid.linewidth": 0.8,
    "axes.linewidth": 0.8,
})


def frame(pairs, name):
    mins, vals = zip(*pairs)
    return pd.DataFrame({"time": T0 + pd.to_timedelta(list(mins), unit="m"), name: list(vals)})


def time_axis(ax, show_labels):
    ax.set_xlim(T0, T0 + pd.Timedelta(hours=6))
    ax.xaxis.set_major_locator(mdates.HourLocator())
    ax.xaxis.set_major_formatter(mdates.DateFormatter("%H:%M\n%m/%d"))
    ax.tick_params(axis="x", labelbottom=show_labels)
    ax.set_xlabel("")
    ax.grid(True)


fig = plt.figure(figsize=(15, 7.5), dpi=300)

# ---------------- header text ----------------
fig.text(0.5, 0.9507, TITLE, ha="center", va="baseline", fontsize=20)
fig.text(0.051, 0.8369, BIG_TEMP, ha="left", va="baseline", fontsize=25)
fig.text(0.2857, 0.8587, HIGH_LOW[0], ha="left", va="baseline", fontsize=12)
fig.text(0.2857, 0.8289, HIGH_LOW[1], ha="left", va="baseline", fontsize=12)
for i, line in enumerate(CONDITIONS):
    fig.text(0.051, 0.785 - i * 0.037, line, ha="left", va="baseline", fontsize=18)

# ---------------- sea-level pressure ----------------
ax_p = fig.add_axes([0.0698, 0.2724, 0.3911, 0.1644])
sns.lineplot(data=frame(PRESSURE, "slp"), x="time", y="slp", ax=ax_p,
             color="black", lw=1.5, estimator=None)
ax_p.set_ylim(1008.967, 1011.254)
ax_p.set_yticks(PRESSURE_TICKS)
ax_p.yaxis.set_major_formatter(FormatStrFormatter("%.1f"))
ax_p.set_ylabel("hPa")
ax_p.set_title("Sea-level pressure", pad=4)
time_axis(ax_p, False)

# ---------------- wind ----------------
ax_w = fig.add_axes([0.0698, 0.0649, 0.3911, 0.1653])
gust = frame(WIND_GUST, "gust")
sns.scatterplot(data=gust, x="time", y="gust", ax=ax_w, color="cyan", s=10,
                alpha=0.5, edgecolor="cyan", linewidth=1.0, zorder=2)
sns.lineplot(data=frame(WIND_SPEED, "spd"), x="time", y="spd", ax=ax_w,
             color="magenta", lw=1.3, estimator=None, zorder=3)
barb_t = mdates.date2num(T0 + pd.to_timedelta(BARB_MIN, unit="m"))
rad = np.deg2rad(BARB_DIR)
spd = np.array(BARB_KPH, dtype=float)
ax_w.barbs(barb_t, np.full(len(BARB_MIN), BARB_LEVEL), -spd * np.sin(rad), -spd * np.cos(rad),
           length=7, pivot="tip", lw=1.0, color="black", zorder=4)
ax_w.set_ylim(0, 34.4)
ax_w.set_yticks([0, 10, 20, 30])
ax_w.set_ylabel("kph")
ax_w.set_title("Wind Spd (line), Gusts (dots), and Barbs", pad=4)
time_axis(ax_w, True)
ax_w2 = ax_w.twinx()
ax_w2.set_ylim(0, 34.4 / 1.609)
ax_w2.set_yticks([0, 4, 8, 12, 16, 20])
ax_w2.set_ylabel("mph")

# ---------------- temperatures ----------------
ax_t = fig.add_axes([0.5588, 0.2724, 0.3913, 0.1644])
for pairs, col in [(AIR_TEMP, "red"), (WET_BULB, "black"), (DEWPOINT, "green")]:
    sns.lineplot(data=frame(pairs, "temp"), x="time", y="temp", ax=ax_t,
                 color=col, lw=1.5, estimator=None)
ax_t.set_ylim(18.43, 34.26)
ax_t.set_yticks(np.arange(20, 35, 2))
ax_t.set_ylabel("$^\\circ$C")
ax_t.set_title("Air (Red), Wet Bulb (Blk) and Dewpoint (Grn) Temps", pad=4)
time_axis(ax_t, False)
ax_t.set_xticks(mdates.date2num(T0 + pd.to_timedelta([50, 100, 150, 200, 250, 350], unit="m")), minor=True)
ax_t2 = ax_t.twinx()
ax_t2.set_ylim(18.43 * 1.8 + 32, 34.26 * 1.8 + 32)
ax_t2.set_yticks([66, 70, 74, 78, 82, 86, 90])
ax_t2.set_ylabel("$^\\circ$F")

# ---------------- solar ----------------
ax_s = fig.add_axes([0.5588, 0.0649, 0.3913, 0.1653])
sns.lineplot(data=frame(SOLAR, "sol"), x="time", y="sol", ax=ax_s,
             color="goldenrod", lw=1.5, estimator=None)
ax_s.set_ylim(0, 1280)
ax_s.set_yticks(np.arange(0, 1201, 200))
ax_s.set_ylabel("W/m$^2$")
ax_s.set_title("Solar Irradiance", pad=4)
time_axis(ax_s, True)

# ---------------- wind rose ----------------
ax_r = fig.add_axes([0.562, 0.606, 0.122, 0.2444], projection="polar")
ax_r.set_theta_zero_location("N")
ax_r.set_theta_direction(-1)
theta = np.deg2rad(ROSE_DIRS)
base = np.zeros(len(ROSE_DIRS))
for freq, col in zip([FREQ_0_5, FREQ_5_10, FREQ_10_15, FREQ_15_20], BIN_COLORS):
    ax_r.bar(theta, freq, width=2 * np.pi / 16, bottom=base, color=col,
             edgecolor="white", lw=0.8, zorder=3)
    base = base + np.array(freq)
ax_r.set_xticks(np.deg2rad(np.arange(0, 360, 45)))
ax_r.set_xticklabels(DIR_LABELS)
ax_r.set_rgrids(RING_PCT, labels=RING_LABELS, angle=22.5)
ax_r.set_ylim(0, 25.47)
ax_r.tick_params(axis="x", pad=8, labelsize=11)
ax_r.tick_params(axis="y", labelsize=11)
ax_r.grid(True, color="#b0b0b0", lw=1.0)
ax_r.spines["polar"].set_color("black")
ax_r.set_title("24-hr Wind Rose (kph)", y=1.09, pad=4)
handles = [mpatches.Patch(facecolor=c, edgecolor="black", lw=1.0, label=l)
           for c, l in zip(BIN_COLORS, BIN_LABELS)]
fig.legend(handles=handles, loc="upper center", bbox_to_anchor=(0.6224, 0.598), ncol=2,
           frameon=False, fontsize=8, handlelength=3.06, handleheight=1.03,
           handletextpad=1.2, columnspacing=3.0, labelspacing=0.85)

# ---------------- precipitation ----------------
ax_pr = fig.add_axes([0.785, 0.545, 0.128, 0.304])
sns.barplot(x=PRECIP_LABELS, y=PRECIP_MM, ax=ax_pr, color="#3b923b", saturation=1, width=0.8)
ax_pr.set_xlim(-0.5, 2.5)
ax_pr.set_ylim(0, 3.696)
ax_pr.set_yticks(PRECIP_MM_TICKS)
ax_pr.yaxis.set_major_formatter(FormatStrFormatter("%.1f"))
ax_pr.set_axisbelow(False)
ax_pr.grid(True)
for cont in ax_pr.containers:
    ax_pr.bar_label(cont, fmt="%.2f", fontsize=11.5, fontweight="bold")
ax_pr.set_ylabel("Total (mm) or Rate (mm/hr)")
ax_pr.set_title("Precipitation", pad=4)
ax_pr2 = ax_pr.twinx()
ax_pr2.set_ylim(0, 3.696 / 25.4)
ax_pr2.set_yticks(PRECIP_IN_TICKS)
ax_pr2.yaxis.set_major_formatter(FormatStrFormatter("%.2f"))
ax_pr2.set_ylabel("Total (in) or Rate (in/hr)")

# ---------------- data-access code ----------------
n = 41
bits = "".join(format(b, "08b") for i in range(30)
               for b in hashlib.sha256(f"{QR_TEXT}{i}".encode()).digest())
qr = np.array([int(c) for c in bits[:n * n]]).reshape(n, n)
qr[6, :] = np.arange(n) % 2 == 0
qr[:, 6] = np.arange(n) % 2 == 0
for r, c in [(0, 0), (0, n - 7), (n - 7, 0)]:
    qr[max(r - 1, 0):r + 8, max(c - 1, 0):c + 8] = 0
    qr[r:r + 7, c:c + 7] = 1
    qr[r + 1:r + 6, c + 1:c + 6] = 0
    qr[r + 2:r + 5, c + 2:c + 5] = 1
qr[n - 9:n - 4, n - 9:n - 4] = 1
qr[n - 8:n - 5, n - 8:n - 5] = 0
qr[n - 7, n - 7] = 1
ax_q = fig.add_axes([0.931, 0.865, 0.06, 0.12])
ax_q.imshow(qr, cmap=ListedColormap(["white", "#3333ff"]), interpolation="nearest")
ax_q.axis("off")
fig.text(0.911, 0.9158, "Data\nAccess", ha="center", va="center", fontsize=10, multialignment="center")

fig.savefig("out.png", dpi=300)
